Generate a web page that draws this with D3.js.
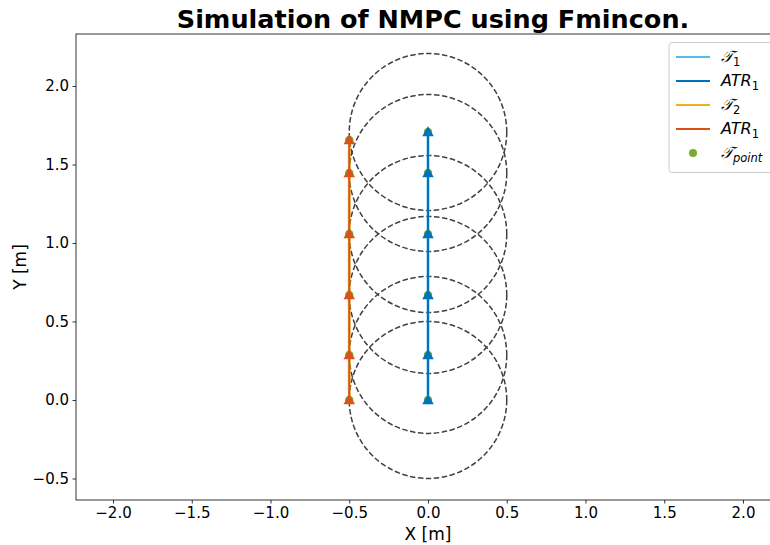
<!DOCTYPE html>
<html><head><meta charset="utf-8">
<script src="https://cdn.jsdelivr.net/npm/d3@7"></script>
<style>body{margin:0;background:#fff}svg{display:block;font-family:"DejaVu Sans",sans-serif}</style>
</head><body><svg id="c" width="770" height="545"></svg>
<script>
const title = "Simulation of NMPC using Fmincon.";
const traj1X = [0, 0, 0, 0, 0, 0];
const traj1Y = [0, 0.287, 0.669, 1.057, 1.446, 1.707];
const traj2X = [-0.5, -0.5, -0.5, -0.5, -0.5, -0.5];
const traj2Y = [0, 0.287, 0.669, 1.057, 1.446, 1.656];
const circleR = [0.5, 0.5, 0.5, 0.5, 0.5, 0.5];
const xTicks = [-2.0, -1.5, -1.0, -0.5, 0.0, 0.5, 1.0, 1.5, 2.0];
const yTicks = [-0.5, 0.0, 0.5, 1.0, 1.5, 2.0];
const legendLabels = ["T1", "ATR1", "T2", "ATR1", "Tpoint"];

const svg = d3.select("#c");
const L = 76, R = 780, T = 34, B = 500;
const x = d3.scaleLinear().domain([-2.235, 2.235]).range([L, R]);
const y = d3.scaleLinear().domain([-0.637, 2.331]).range([B, T]);
const fmt = v => (v < 0 ? "\u2212" : "") + Math.abs(v).toFixed(1);

const colT1 = "#4dbeee", colA1 = "#0072bd", colT2 = "#edb120", colA2 = "#d95319", colP = "#77ac30";

svg.append("clipPath").attr("id", "cl").append("rect")
  .attr("x", L).attr("y", T).attr("width", R - L).attr("height", B - T);
const g = svg.append("g").attr("clip-path", "url(#cl)");

const p1 = traj1X.map((v, i) => [v, traj1Y[i]]);
const p2 = traj2X.map((v, i) => [v, traj2Y[i]]);
const line = d3.line().x(d => x(d[0])).y(d => y(d[1]));

// circles
g.selectAll("ellipse.c").data(p1).join("ellipse")
  .attr("cx", d => x(d[0])).attr("cy", d => y(d[1]))
  .attr("rx", (d, i) => x(circleR[i]) - x(0)).attr("ry", (d, i) => y(0) - y(circleR[i]))
  .attr("fill", "none").attr("stroke", "#404040").attr("stroke-width", 1.5).attr("stroke-dasharray", "5.5,2.5");

// trajectories
g.append("path").attr("d", line(p1)).attr("fill", "none").attr("stroke", colT1).attr("stroke-width", 2.8);
g.append("path").attr("d", line(p2)).attr("fill", "none").attr("stroke", colT2).attr("stroke-opacity", 0.7).attr("stroke-width", 3);
g.append("path").attr("d", line(p2)).attr("fill", "none").attr("stroke", colA2).attr("stroke-width", 2);
g.append("path").attr("d", line(p1)).attr("fill", "none").attr("stroke", colA1).attr("stroke-width", 2);

// points
g.selectAll("circle.p").data(p1.concat(p2)).join("circle")
  .attr("cx", d => x(d[0])).attr("cy", d => y(d[1])).attr("r", 4.2).attr("fill", colP);
const tri = d3.symbol().type(d3.symbolTriangle).size(58);
g.selectAll("path.t1").data(p1).join("path").attr("d", tri)
  .attr("transform", d => `translate(${x(d[0])},${y(d[1]) + 1})`).attr("fill", colA1);
g.selectAll("path.t2").data(p2).join("path").attr("d", tri)
  .attr("transform", d => `translate(${x(d[0])},${y(d[1]) + 1})`).attr("fill", colA2);

// axes
const xa = svg.append("g").attr("transform", `translate(0,${B})`)
  .call(d3.axisBottom(x).tickValues(xTicks).tickFormat(fmt).tickSize(3.5).tickPadding(3.5));
const ya = svg.append("g").attr("transform", `translate(${L},0)`)
  .call(d3.axisLeft(y).tickValues(yTicks).tickFormat(fmt).tickSize(3.5).tickPadding(3.5));
[xa, ya].forEach(a => {
  a.selectAll("text").attr("font-size", 15).attr("fill", "#000").attr("font-family", "DejaVu Sans");
  a.selectAll("line").attr("stroke", "#000").attr("stroke-width", 0.8);
  a.select(".domain").remove();
});
svg.append("rect").attr("x", L).attr("y", T).attr("width", R - L).attr("height", B - T)
  .attr("fill", "none").attr("stroke", "#000").attr("stroke-width", 0.8);

svg.append("text").attr("x", 428).attr("y", 540).attr("text-anchor", "middle")
  .attr("font-size", 17).text("X [m]");
svg.append("text").attr("transform", `translate(26,${(T + B) / 2}) rotate(-90)`)
  .attr("text-anchor", "middle").attr("font-size", 17).text("Y [m]");
svg.append("text").attr("x", 433).attr("y", 28).attr("text-anchor", "middle")
  .attr("font-size", 25.5).attr("font-weight", "bold").text(title);

// legend
const lg = svg.append("g").attr("transform", "translate(669,42)");
lg.append("rect").attr("x", 0).attr("y", 0.5).attr("width", 120).attr("height", 130).attr("rx", 3)
  .attr("fill", "#fff").attr("fill-opacity", 0.8).attr("stroke", "#ccc").attr("stroke-width", 1);
const items = [
  {c: colT1, base: "\uD835\uDCAF", sub: "1"},
  {c: colA1, base: "ATR", sub: "1"},
  {c: colT2, base: "\uD835\uDCAF", sub: "2"},
  {c: colA2, base: "ATR", sub: "1"},
  {c: colP, base: "\uD835\uDCAF", sub: "point", dot: true}
];
items.forEach((it, i) => {
  const yy = 15 + i * 24;
  if (it.dot) lg.append("circle").attr("cx", 24).attr("cy", yy).attr("r", 4).attr("fill", it.c);
  else lg.append("line").attr("x1", 7).attr("x2", 41).attr("y1", yy).attr("y2", yy)
    .attr("stroke", it.c).attr("stroke-width", 1.8);
  const t = lg.append("text").attr("x", 52).attr("y", yy + 5).attr("font-size", 16)
    .attr("font-style", "italic").attr("font-family", "DejaVu Sans");
  t.append("tspan").text(it.base).attr("data-label", legendLabels[i]);
  t.append("tspan").text(it.sub).attr("font-size", 11.5).attr("dy", 4)
    .attr("font-style", it.sub === "point" ? "italic" : "normal");
});
</script></body></html>
